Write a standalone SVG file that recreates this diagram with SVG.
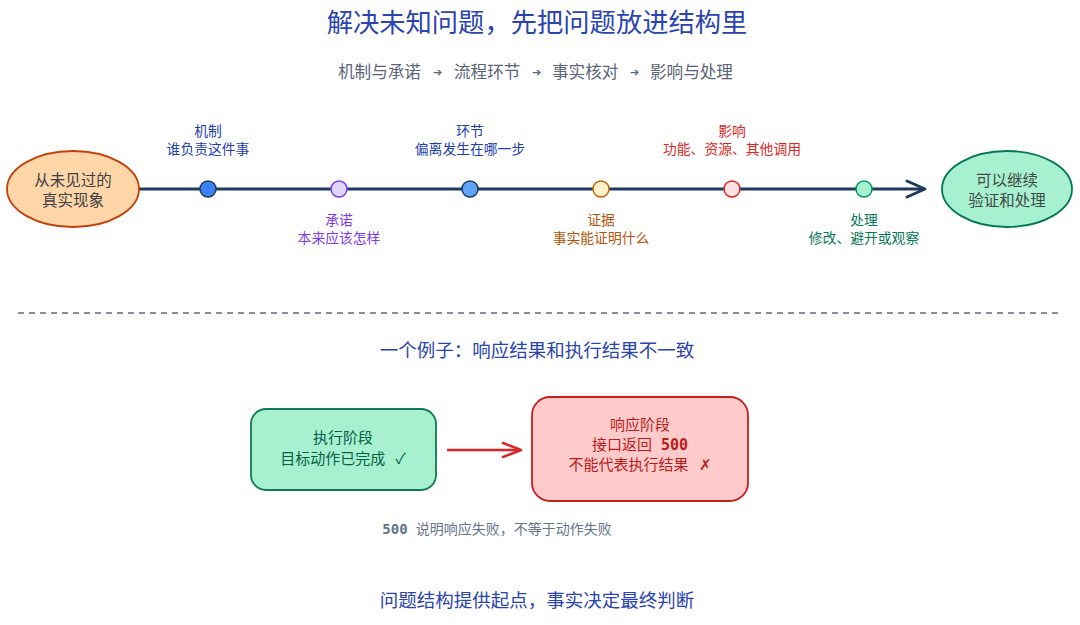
<svg xmlns="http://www.w3.org/2000/svg" width="1080" height="625" viewBox="0 0 1080 625">
<style>
text{font-family:"Noto Sans CJK SC","Noto Sans",sans-serif;text-anchor:middle}
.title{font-size:26.3px;fill:#2a44b0}
.sub{font-size:16.6px;fill:#5b6478;text-anchor:start}
.arr{font-size:11px;fill:#5b6478}
.lbl{font-size:13.8px}
.h2{font-size:18.5px;fill:#2a44b0}
.mono{font-family:"DejaVu Sans Mono","Liberation Mono",monospace;font-weight:bold}
.dot{stroke-width:1.5}
</style>
<rect width="1080" height="625" fill="#ffffff"/>
<text class="title" x="537" y="32">解决未知问题，先把问题放进结构里</text>
<g id="subtitle">
  <text class="sub" x="338" y="78">机制与承诺</text>
  <text class="arr" x="437" y="76">➔</text>
  <text class="sub" x="454" y="78">流程环节</text>
  <text class="arr" x="536" y="76">➔</text>
  <text class="sub" x="552" y="78">事实核对</text>
  <text class="arr" x="634" y="76">➔</text>
  <text class="sub" x="650" y="78">影响与处理</text>
</g>

<g id="connectors" fill="none">
  <line x1="139" y1="189" x2="924" y2="189" stroke="#1e3a5f" stroke-width="3"/>
  <polyline points="907,181 925,189 907,197" stroke="#1e3a5f" stroke-width="3" stroke-linecap="round" stroke-linejoin="round"/>
  <line x1="447" y1="450" x2="520" y2="450" stroke="#dc2626" stroke-width="2.5"/>
  <polyline points="503,443 521,450 503,457" stroke="#dc2626" stroke-width="2.5" stroke-linecap="round" stroke-linejoin="round"/>
  <line x1="18" y1="313" x2="1062" y2="313" stroke="#5b6b8f" stroke-width="1.5" stroke-dasharray="6 5"/>
</g>

<g id="start">
  <ellipse cx="73" cy="189" rx="66" ry="38" fill="#fed6a8" stroke="#c2410c" stroke-width="1.8"/>
  <text x="73" y="186" font-size="15.5" fill="#3f3f46">从未见过的</text>
  <text x="73" y="206" font-size="15.5" fill="#3f3f46">真实现象</text>
</g>
<g id="end">
  <ellipse cx="1007" cy="189" rx="65" ry="38" fill="#a7f0d0" stroke="#047857" stroke-width="1.8"/>
  <text x="1007" y="186" font-size="15.5" fill="#3f4a46">可以继续</text>
  <text x="1007" y="206" font-size="15.5" fill="#3f4a46">验证和处理</text>
</g>

<g id="step-mechanism">
  <circle class="dot" cx="208" cy="189" r="8" fill="#3b82f6" stroke="#1e3a5f"/>
  <text class="lbl" x="208" y="136" fill="#1e40af">机制</text>
  <text class="lbl" x="208" y="154" fill="#1e40af">谁负责这件事</text>
</g>
<g id="step-promise">
  <circle class="dot" cx="339" cy="189" r="8" fill="#ddd6fe" stroke="#7c3aed"/>
  <text class="lbl" x="339" y="225" fill="#7c3aed">承诺</text>
  <text class="lbl" x="339" y="243" fill="#7c3aed">本来应该怎样</text>
</g>
<g id="step-link">
  <circle class="dot" cx="470" cy="189" r="8" fill="#60a5fa" stroke="#1e3a5f"/>
  <text class="lbl" x="470" y="136" fill="#1e40af">环节</text>
  <text class="lbl" x="470" y="154" fill="#1e40af">偏离发生在哪一步</text>
</g>
<g id="step-evidence">
  <circle class="dot" cx="601" cy="189" r="8" fill="#fef3c7" stroke="#c2650c"/>
  <text class="lbl" x="601" y="225" fill="#b45309">证据</text>
  <text class="lbl" x="601" y="243" fill="#b45309">事实能证明什么</text>
</g>
<g id="step-impact">
  <circle class="dot" cx="732" cy="189" r="8" fill="#fee2e2" stroke="#dc2626"/>
  <text class="lbl" x="732" y="136" fill="#dc2626">影响</text>
  <text class="lbl" x="732" y="154" fill="#dc2626">功能、资源、其他调用</text>
</g>
<g id="step-handle">
  <circle class="dot" cx="864" cy="189" r="8" fill="#a7f3d0" stroke="#059669"/>
  <text class="lbl" x="864" y="225" fill="#047857">处理</text>
  <text class="lbl" x="864" y="243" fill="#047857">修改、避开或观察</text>
</g>

<text class="h2" x="537" y="357">一个例子：响应结果和执行结果不一致</text>

<g id="exec">
  <rect x="251" y="409" width="185" height="81" rx="15" fill="#a7f0d0" stroke="#0f7a55" stroke-width="1.8"/>
  <text x="343" y="443" font-size="15" fill="#065f46">执行阶段</text>
  <text x="343" y="464" font-size="15" fill="#065f46">目标动作已完成<tspan dx="10">✓</tspan></text>
</g>
<g id="resp">
  <rect x="532" y="397" width="216" height="104" rx="18" fill="#fecaca" stroke="#c81e1e" stroke-width="1.8"/>
  <text x="640" y="430" font-size="15" fill="#b91c1c">响应阶段</text>
  <text x="640" y="450" font-size="15" fill="#b91c1c">接口返回<tspan class="mono" dx="9">500</tspan></text>
  <text x="640" y="470" font-size="15" fill="#b91c1c">不能代表执行结果<tspan dx="10">✗</tspan></text>
</g>

<text x="497" y="534" font-size="14" fill="#64748b"><tspan class="mono">500</tspan><tspan dx="8">说明响应失败，不等于动作失败</tspan></text>

<text class="h2" x="537" y="607">问题结构提供起点，事实决定最终判断</text>
</svg>
